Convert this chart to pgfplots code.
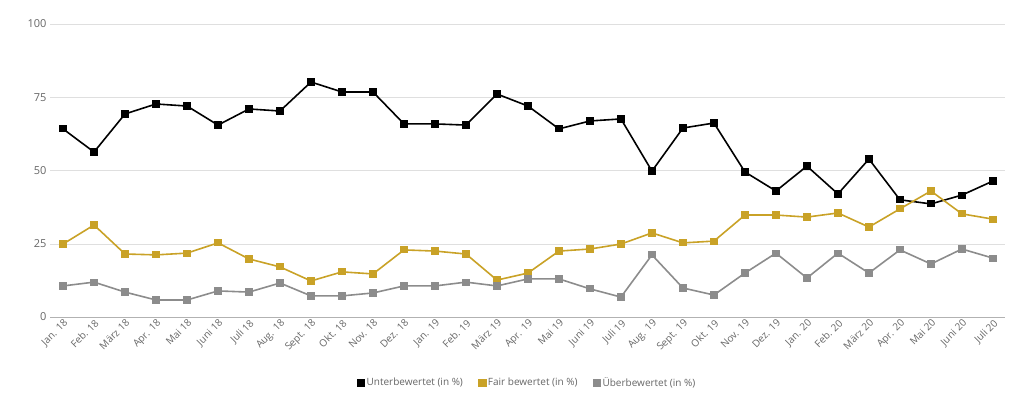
\documentclass[border=0pt]{standalone}
\usepackage{pgfplots}
\pgfplotsset{compat=1.18}
\usepackage{fontspec}
\setmainfont{Open Sans}
\definecolor{gold}{HTML}{C9A227}
\definecolor{gry}{HTML}{8C8C8C}
\definecolor{txt}{HTML}{666666}
\begin{document}
\begin{tikzpicture}
\begin{axis}[scale only axis, width=955pt, height=293pt,
 xmin=-0.42, xmax=30.39, ymin=0, ymax=100,
 ytick={0,25,50,75,100}, xtick={0,...,30},
 xticklabels={Jan. 18,Feb. 18,März 18,Apr. 18,Mai 18,Juni 18,Juli 18,Aug. 18,Sept. 18,Okt. 18,Nov. 18,Dez. 18,Jan. 19,Feb. 19,März 19,Apr. 19,Mai 19,Juni 19,Juli 19,Aug. 19,Sept. 19,Okt. 19,Nov. 19,Dez. 19,Jan. 20,Feb. 20,März 20,Apr. 20,Mai 20,Juni 20,Juli 20},
 x tick label style={rotate=45, anchor=north east, font=\fontsize{10}{11}\selectfont, text=txt, inner sep=1pt},
 y tick label style={font=\fontsize{11}{12}\selectfont, text=txt},
 /pgf/number format/assume math mode=true,
 ymajorgrids, grid style={gray!25}, axis x line*=bottom, axis y line*=left,
 y axis line style={draw=none},
 x axis line style={gray!60}, major tick length=0pt,
 legend style={at={(0.5,-0.225)}, anchor=center, draw=none, legend columns=-1,
   font=\fontsize{10}{11}\selectfont, text=txt, /tikz/every even column/.append style={column sep=14pt}},
 legend image code/.code={\draw[#1, mark size=3.5pt] plot coordinates {(0.3cm,0cm)};},
 every axis plot/.append style={line width=1.6pt, mark=square*, mark size=2.8pt}
]
\addplot[black] coordinates {(0,64.2)(1,56.3)(2,69.3)(3,72.7)(4,72)(5,65.5)(6,71)(7,70.3)(8,80.2)(9,76.8)(10,76.8)(11,65.9)(12,65.9)(13,65.5)(14,76.1)(15,72)(16,64.2)(17,66.9)(18,67.6)(19,49.8)(20,64.5)(21,66.2)(22,49.5)(23,43)(24,51.5)(25,42)(26,53.9)(27,40)(28,38.6)(29,41.6)(30,46.4)};
\addlegendentry{Unterbewertet (in \%)}
\addplot[gold] coordinates {(0,24.9)(1,31.4)(2,21.5)(3,21.2)(4,21.8)(5,25.3)(6,19.8)(7,17.1)(8,12.3)(9,15.4)(10,14.7)(11,22.9)(12,22.5)(13,21.5)(14,12.6)(15,15)(16,22.5)(17,23.2)(18,24.9)(19,28.7)(20,25.3)(21,25.9)(22,34.8)(23,34.8)(24,34.1)(25,35.5)(26,30.7)(27,36.9)(28,43)(29,35.2)(30,33.4)};
\addlegendentry{Fair bewertet (in \%)}
\addplot[gry] coordinates {(0,10.6)(1,11.9)(2,8.5)(3,5.8)(4,5.8)(5,8.9)(6,8.5)(7,11.6)(8,7.2)(9,7.2)(10,8.2)(11,10.6)(12,10.6)(13,11.9)(14,10.6)(15,13)(16,13)(17,9.6)(18,6.8)(19,21.2)(20,9.9)(21,7.5)(22,15)(23,21.8)(24,13.3)(25,21.8)(26,15)(27,22.9)(28,18.1)(29,23.2)(30,20.1)};
\addlegendentry{Überbewertet (in \%)}
\end{axis}
\useasboundingbox ([xshift=-50pt,yshift=-91pt]current axis.south west) rectangle ([xshift=19pt,yshift=24pt]current axis.north east);
\end{tikzpicture}
\end{document}
